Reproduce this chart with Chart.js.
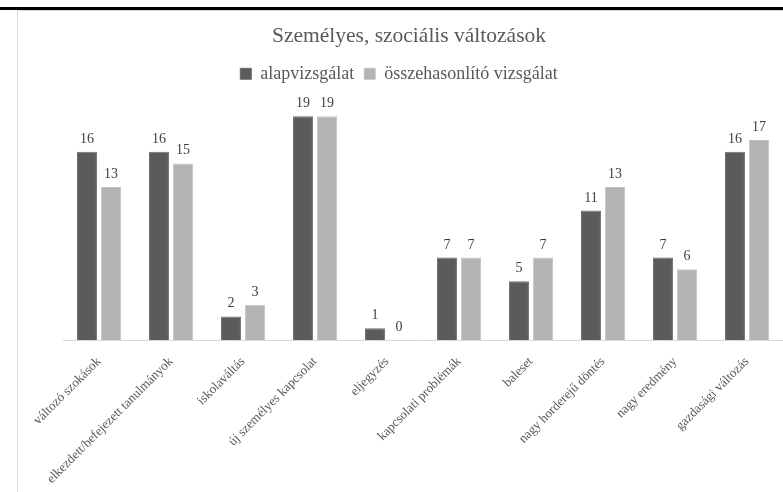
<!DOCTYPE html>
<html>
<head>
<meta charset="utf-8">
<script src="https://cdn.jsdelivr.net/npm/chart.js@4/dist/chart.umd.min.js"></script>
<style>
  html, body { margin: 0; padding: 0; background: #ffffff; }
  #wrap { position: relative; width: 783px; height: 492px; overflow: hidden; }
  #c { position: absolute; left: 0; top: 0; }
  .topbar { position: absolute; left: 0; top: 7px; width: 783px; height: 3px; background: #000; }
  .frame { position: absolute; left: 17px; top: 10px; width: 800px; height: 500px;
           border-left: 1px solid #d9d9d9; border-top: 1px solid #d9d9d9; box-sizing: border-box; }
</style>
</head>
<body>
<div id="wrap">
  <canvas id="c" width="783" height="492"></canvas>
  <div class="frame"></div>
  <div class="topbar"></div>
</div>
<script>
const chartTitle = "Személyes, szociális változások";
const categories = [
  "változó szokások",
  "elkezdett/befejezett tanulmányok",
  "iskolaváltás",
  "új személyes kapcsolat",
  "eljegyzés",
  "kapcsolati problémák",
  "baleset",
  "nagy horderejű döntés",
  "nagy eredmény",
  "gazdasági változás"
];
const seriesNames = ["alapvizsgálat", "összehasonlító vizsgálat"];
const baseValues = [16, 16, 2, 19, 1, 7, 5, 11, 7, 16];
const compareValues = [13, 15, 3, 19, 0, 7, 7, 13, 6, 17];

const SERIF = "'Liberation Serif', 'Times New Roman', serif";

const valueLabels = {
  id: 'valueLabels',
  afterDatasetsDraw(chart) {
    const ctx = chart.ctx;
    ctx.save();
    ctx.font = "14px " + SERIF;
    ctx.fillStyle = '#404040';
    ctx.textAlign = 'center';
    ctx.textBaseline = 'alphabetic';
    chart.data.datasets.forEach((ds, di) => {
      const meta = chart.getDatasetMeta(di);
      meta.data.forEach((bar, i) => {
        ctx.fillText(String(ds.data[i]), bar.x, bar.y - 9);
      });
    });
    ctx.restore();
  }
};

const legendShift = {
  id: 'legendShift',
  afterLayout(chart) {
    if (chart.legend) { chart.legend.left -= 10; chart.legend.right -= 10; }
  }
};

new Chart(document.getElementById('c'), {
  type: 'bar',
  data: {
    labels: categories,
    datasets: [
      { label: seriesNames[0], data: baseValues, backgroundColor: '#5b5b5b', borderColor: '#6c6c6c', borderWidth: 1,
        categoryPercentage: 0.667, barPercentage: 0.83 },
      { label: seriesNames[1], data: compareValues, backgroundColor: '#b3b3b3', borderColor: '#c4c4c4', borderWidth: 1,
        categoryPercentage: 0.667, barPercentage: 0.83 }
    ]
  },
  options: {
    responsive: false,
    animation: false,
    layout: { padding: { left: 35, right: 0, top: 0, bottom: 0 } },
    plugins: {
      title: {
        display: true, text: chartTitle, color: '#595959',
        font: { family: SERIF, size: 21.5, weight: 'normal' },
        padding: { top: 23, bottom: 6 }
      },
      legend: {
        display: true, position: 'top',
        labels: {
          color: '#595959', boxWidth: 11, boxHeight: 11, padding: 10,
          font: { family: SERIF, size: 18 }
        }
      },
      tooltip: { enabled: false }
    },
    scales: {
      x: {
        grid: { display: false },
        border: { display: true, color: '#d9d9d9', width: 1 },
        ticks: {
          color: '#595959', font: { family: SERIF, size: 13 },
          maxRotation: 45, minRotation: 45, autoSkip: false, padding: 6
        },
        afterFit(scale) { scale.height = 152; scale.paddingLeft = 63; scale.paddingRight = 0; }
      },
      y: { display: false, min: 0, max: 21 }
    }
  },
  plugins: [valueLabels, legendShift]
});
</script>
</body>
</html>
